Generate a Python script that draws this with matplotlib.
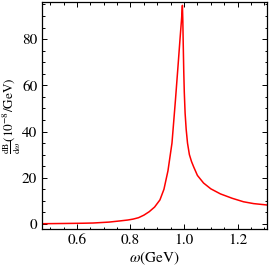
import matplotlib
matplotlib.use("Agg")
import matplotlib.pyplot as plt
from matplotlib.ticker import MultipleLocator

plt.rcParams['font.family'] = ['STIXGeneral', 'DejaVu Serif']
plt.rcParams['mathtext.fontset'] = 'stix'

# omega (GeV) and dB/domega (1e-8/GeV)
omega = [0.47, 0.55, 0.62, 0.66, 0.72, 0.76, 0.79, 0.81, 0.83, 0.85, 0.87,
         0.89, 0.91, 0.925, 0.94, 0.955, 0.968, 0.978, 0.985, 0.991, 0.994,
         0.9955, 0.997, 0.999, 1.001, 1.004, 1.008, 1.013, 1.02, 1.028, 1.036,
         1.05, 1.073, 1.10, 1.136, 1.18, 1.222, 1.26, 1.31]
dbdw = [0.1, 0.2, 0.3, 0.4, 0.8, 1.3, 1.7, 2.1, 2.7, 3.8, 5.3,
        7.3, 10.4, 15.0, 23.0, 35.0, 53.7, 69.0, 80.0, 89.0, 94.6,
        88.0, 78.0, 66.0, 57.0, 48.0, 41.0, 35.0, 30.0, 27.0, 24.7,
        21.0, 17.7, 15.2, 13.0, 11.1, 9.6, 8.8, 8.2]

fig = plt.figure(figsize=(2.70, 2.66), dpi=100)
ax = fig.add_axes([0.156, 0.139, 0.833, 0.853])

ax.plot(omega, dbdw, color="red", linewidth=1.1)

ax.set_xlim(0.47, 1.31)
ax.set_ylim(-2.2, 96)
ax.xaxis.set_major_locator(MultipleLocator(0.2))
ax.xaxis.set_minor_locator(MultipleLocator(0.05))
ax.yaxis.set_major_locator(MultipleLocator(20))
ax.yaxis.set_minor_locator(MultipleLocator(5))
ax.tick_params(which="both", direction="in", top=True, right=True, labelsize=11, width=0.7)
ax.tick_params(which="major", length=3.5)
ax.tick_params(which="minor", length=1.8)
ax.xaxis.set_major_formatter(matplotlib.ticker.FormatStrFormatter("%.1f"))
for s in ax.spines.values():
    s.set_linewidth(0.9)

ax.set_xlabel(r"$\omega$(GeV)", fontsize=11, labelpad=2)
fig.text(1 / 270, 1 - 116 / 266, r"$\frac{\mathrm{dB}}{\mathrm{d}\omega}$(10$^{-8}$/GeV)",
         fontsize=9.5, rotation=90, ha="left", va="center")

plt.savefig("out.png", dpi=100)
